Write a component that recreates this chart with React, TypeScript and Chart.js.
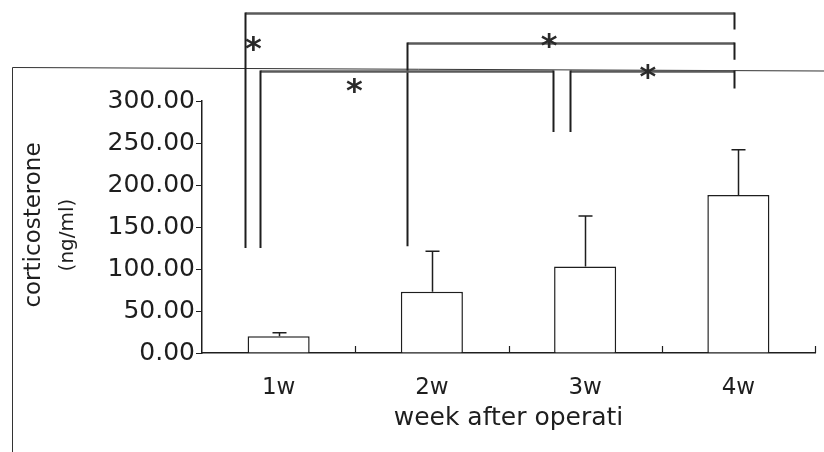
import React, { useEffect, useRef } from "react";
import { Chart, registerables } from "chart.js";

Chart.register(...registerables);

const categories = ["1w", "2w", "3w", "4w"];
const means = [20, 73, 103, 188];
const errors = [4, 48, 60, 54];
const yMin = 0;
const yMax = 300;
const yStep = 50;
const yTitle = "corticosterone";
const yUnit = "(ng/ml)";
const xTitle = "week after operati";

// significance brackets (category index / value units)
const bracketFrom = [0, 1, 0, 2];
const bracketTo = [3, 3, 2, 3];
const bracketLevel = [405, 369, 336, 336];
const bracketLeftEnd = [125, 127, 125, 263];
const bracketRightEnd = [385, 349, 263, 315];
const starX = [-0.165, 1.765, 0.495, 2.41];
const starY = [367, 370, 317, 334];

const FONT = "DejaVu Sans";
const INK = "#1e1e1e";

const annotations = {
  id: "annotations",
  afterDraw(chart: any) {
    const ctx = chart.ctx;
    const xs = chart.scales.x;
    const ys = chart.scales.y;
    const area = chart.chartArea;
    ctx.save();

    // frame lines of the scanned figure
    ctx.strokeStyle = "#333";
    ctx.lineWidth = 1;
    ctx.beginPath();
    ctx.moveTo(12.5, 452);
    ctx.lineTo(12.5, 67.5);
    ctx.lineTo(824, 71);
    ctx.stroke();

    // error bars
    ctx.strokeStyle = INK;
    ctx.lineWidth = 1.5;
    for (let i = 0; i < means.length; i++) {
      const cx = Math.round(xs.getPixelForValue(i)) + 0.5;
      const y0 = ys.getPixelForValue(means[i]);
      const y1 = ys.getPixelForValue(means[i] + errors[i]);
      ctx.beginPath();
      ctx.moveTo(cx, y0);
      ctx.lineTo(cx, y1);
      ctx.moveTo(cx - 7, y1);
      ctx.lineTo(cx + 7, y1);
      ctx.stroke();
    }

    // inward x ticks at category boundaries
    ctx.lineWidth = 1.2;
    for (let i = 0; i < categories.length; i++) {
      const bx = Math.round(xs.getPixelForValue(i + 0.5)) + 0.5;
      ctx.beginPath();
      ctx.moveTo(bx, area.bottom);
      ctx.lineTo(bx, area.bottom - 7);
      ctx.stroke();
    }

    // brackets
    const leftOff = [-33.5, -25, -18.5, -15];
    const rightOff = [-4.5, -4.5, -32, -4.5];
    for (let b = 0; b < bracketFrom.length; b++) {
      const lx = Math.round(xs.getPixelForValue(bracketFrom[b]) + leftOff[b]) + 0.5;
      const rx = Math.round(xs.getPixelForValue(bracketTo[b]) + rightOff[b]) + 0.5;
      const ly = Math.round(ys.getPixelForValue(bracketLevel[b])) + 0.5;
      ctx.strokeStyle = "#5a5a5a";
      ctx.lineWidth = 2.5;
      ctx.beginPath();
      ctx.moveTo(lx, ly);
      ctx.lineTo(rx, ly);
      ctx.stroke();
      ctx.strokeStyle = INK;
      ctx.lineWidth = 2;
      ctx.beginPath();
      ctx.moveTo(lx, ly - 1);
      ctx.lineTo(lx, ys.getPixelForValue(bracketLeftEnd[b]));
      ctx.moveTo(rx, ly - 1);
      ctx.lineTo(rx, ys.getPixelForValue(bracketRightEnd[b]));
      ctx.stroke();
    }

    // stars
    ctx.fillStyle = "#2a2a2a";
    ctx.font = `bold 32px "${FONT}"`;
    ctx.textAlign = "center";
    ctx.textBaseline = "alphabetic";
    for (let s = 0; s < starX.length; s++) {
      const sx = xs.getPixelForValue(starX[s]);
      const sy = ys.getPixelForValue(starY[s]);
      ctx.fillText("*", sx, sy + 0.44 * 32);
    }

    // y-axis titles
    ctx.fillStyle = INK;
    ctx.textBaseline = "middle";
    ctx.save();
    ctx.translate(34, 225);
    ctx.rotate(-Math.PI / 2);
    ctx.font = `23px "${FONT}"`;
    ctx.fillText(yTitle, 0, 0);
    ctx.restore();
    ctx.save();
    ctx.translate(68, 235);
    ctx.rotate(-Math.PI / 2);
    ctx.font = `20px "${FONT}"`;
    ctx.fillText(yUnit, 0, 0);
    ctx.restore();

    ctx.restore();
  },
};

export default function App() {
  const ref = useRef<HTMLCanvasElement | null>(null);
  useEffect(() => {
    if (!ref.current) return;
    const chart = new Chart(ref.current, {
      type: "bar",
      data: {
        labels: categories,
        datasets: [
          {
            data: means,
            backgroundColor: "#ffffff",
            borderColor: INK,
            borderWidth: 1.5,
            categoryPercentage: 1,
            barPercentage: 0.405,
          },
        ],
      },
      options: {
        responsive: false,
        animation: false,
        layout: { padding: { top: 101, right: 9, left: 0, bottom: 0 } },
        plugins: { legend: { display: false }, tooltip: { enabled: false } },
        scales: {
          x: {
            grid: { display: true, drawOnChartArea: false, drawTicks: false },
            border: { color: INK, width: 1.5 },
            ticks: {
              color: INK,
              font: { family: FONT, size: 23 },
              padding: 21,
              maxRotation: 0,
            },
            title: {
              display: true,
              text: xTitle,
              color: INK,
              font: { family: FONT, size: 25 },
              padding: { top: 0, bottom: 19 },
            },
            afterFit: (s: any) => {
              s.height = 99;
            },
          },
          y: {
            min: yMin,
            max: yMax,
            grid: { drawOnChartArea: false, tickLength: 6, color: INK },
            border: { color: INK, width: 1.5 },
            ticks: {
              stepSize: yStep,
              color: INK,
              padding: 1,
              font: { family: FONT, size: 25 },
              callback: (v: any) => Number(v).toFixed(2),
            },
            afterFit: (s: any) => {
              s.width = 202;
            },
          },
        },
      },
      plugins: [annotations],
    });
    return () => chart.destroy();
  }, []);
  return (
    <div style={{ position: "absolute", left: 0, top: 0, width: 824, height: 452, background: "#fff" }}>
      <canvas ref={ref} width={824} height={452} style={{ display: "block" }} />
    </div>
  );
}
